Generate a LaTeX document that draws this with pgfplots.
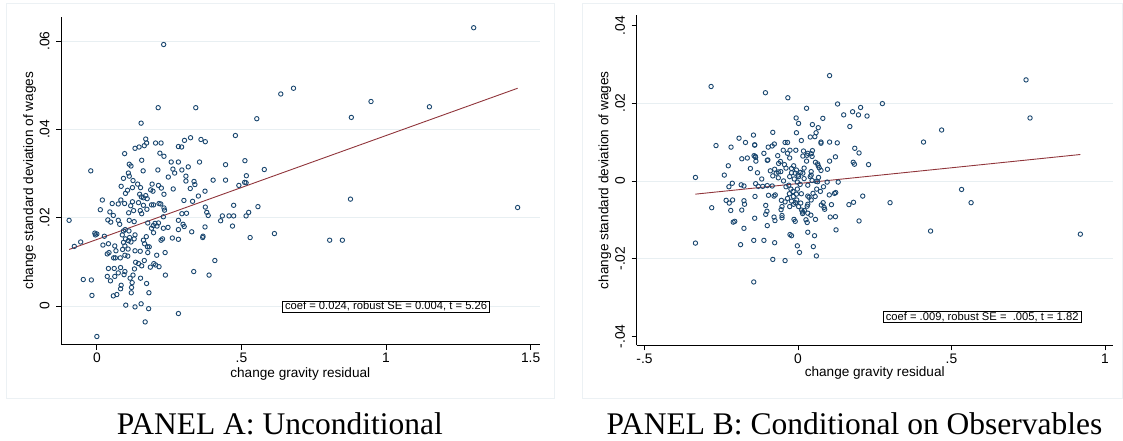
\documentclass[border=0pt]{standalone}
\usepackage{fontspec}
\setmainfont{Liberation Sans}
\newfontfamily\capfont{Liberation Serif}
\usepackage{pgfplots}
\usepackage{pgfplotstable}
\pgfplotsset{compat=1.18}
\definecolor{stnavy}{RGB}{26,71,111}
\definecolor{stmaroon}{RGB}{144,53,59}
\definecolor{gridc}{RGB}{232,239,242}
\definecolor{regc}{RGB}{236,241,244}

\pgfplotstableread{
x y
1.303 0.0630
0.231 0.0592
0.680 0.0493
0.636 0.0480
0.948 0.0463
1.150 0.0451
0.212 0.0449
0.342 0.0449
0.553 0.0424
0.880 0.0427
0.153 0.0414
0.479 0.0386
0.324 0.0381
0.169 0.0378
0.360 0.0377
0.375 0.0372
0.203 0.0369
0.222 0.0369
0.172 0.0369
0.303 0.0375
0.164 0.0363
0.146 0.0360
0.132 0.0357
0.282 0.0361
0.293 0.0360
0.218 0.0346
0.096 0.0345
0.232 0.0339
0.155 0.0330
0.512 0.0329
0.355 0.0326
0.257 0.0326
0.282 0.0326
0.112 0.0321
0.445 0.0320
0.118 0.0317
0.316 0.0315
0.294 0.0308
0.579 0.0309
0.211 0.0308
-0.021 0.0306
0.160 0.0306
0.263 0.0310
0.269 0.0301
0.109 0.0301
0.112 0.0294
0.517 0.0295
0.308 0.0294
0.092 0.0289
0.247 0.0292
0.125 0.0284
0.308 0.0283
0.402 0.0285
0.445 0.0285
0.336 0.0282
0.511 0.0280
0.516 0.0279
0.141 0.0276
0.191 0.0276
0.213 0.0273
0.339 0.0275
0.491 0.0273
0.084 0.0271
0.151 0.0268
0.264 0.0265
0.123 0.0268
0.323 0.0266
0.186 0.0263
0.223 0.0267
0.106 0.0262
0.374 0.0260
0.194 0.0260
0.099 0.0255
0.232 0.0253
0.148 0.0253
0.351 0.0249
0.169 0.0250
0.154 0.0247
0.161 0.0245
0.174 0.0243
0.019 0.0240
0.083 0.0240
0.301 0.0239
0.331 0.0237
0.123 0.0236
0.877 0.0242
0.096 0.0232
0.053 0.0232
0.144 0.0234
0.215 0.0232
0.074 0.0231
0.473 0.0228
0.161 0.0228
0.189 0.0229
0.117 0.0227
0.557 0.0225
0.196 0.0229
0.221 0.0231
0.375 0.0224
1.455 0.0223
0.012 0.0218
0.232 0.0222
0.173 0.0219
0.234 0.0217
0.127 0.0216
0.150 0.0216
0.380 0.0212
0.525 0.0212
0.294 0.0209
0.310 0.0210
0.110 0.0211
0.155 0.0209
0.045 0.0213
0.385 0.0205
0.434 0.0204
0.457 0.0204
0.473 0.0204
0.516 0.0204
0.230 0.0202
0.057 0.0205
-0.096 0.0194
0.038 0.0195
0.048 0.0190
0.074 0.0194
0.112 0.0194
0.129 0.0191
0.282 0.0194
0.428 0.0193
0.176 0.0188
0.201 0.0187
0.213 0.0188
0.079 0.0185
0.195 0.0182
0.208 0.0181
0.298 0.0185
0.302 0.0180
0.469 0.0181
0.374 0.0179
0.246 0.0178
0.230 0.0176
0.189 0.0176
0.098 0.0173
0.282 0.0173
0.111 0.0170
0.092 0.0170
-0.007 0.0165
0.000 0.0163
-0.005 0.0161
0.196 0.0166
0.328 0.0168
0.614 0.0164
0.088 0.0161
0.026 0.0158
0.132 0.0161
0.367 0.0158
0.366 0.0155
0.171 0.0157
0.113 0.0155
0.099 0.0152
0.530 0.0155
0.129 0.0152
0.227 0.0152
0.261 0.0154
0.282 0.0151
0.161 0.0149
0.222 0.0149
0.109 0.0148
0.805 0.0149
0.849 0.0149
-0.056 0.0145
0.092 0.0144
0.118 0.0145
-0.078 0.0135
0.021 0.0138
0.165 0.0141
0.040 0.0141
0.062 0.0136
0.097 0.0136
0.181 0.0134
0.175 0.0134
0.108 0.0129
0.089 0.0128
0.066 0.0125
0.132 0.0125
0.150 0.0124
0.236 0.0121
0.176 0.0121
0.042 0.0121
0.036 0.0118
0.097 0.0115
0.207 0.0115
0.107 0.0113
0.058 0.0109
0.064 0.0109
0.081 0.0109
0.408 0.0103
0.164 0.0103
0.134 0.0099
0.144 0.0096
0.197 0.0096
0.203 0.0093
0.155 0.0091
0.215 0.0089
0.185 0.0088
0.040 0.0085
0.060 0.0085
0.082 0.0087
0.130 0.0084
0.097 0.0078
0.335 0.0078
0.074 0.0075
0.094 0.0071
0.237 0.0070
0.388 0.0070
0.036 0.0067
0.062 0.0067
0.125 0.0070
0.115 0.0063
0.151 0.0063
-0.047 0.0060
-0.019 0.0059
0.047 0.0057
0.122 0.0053
0.172 0.0051
0.084 0.0047
0.120 0.0042
0.082 0.0039
0.119 0.0030
0.180 0.0030
0.069 0.0026
0.057 0.0023
-0.017 0.0024
0.100 0.0002
0.153 0.0005
0.132 -0.0002
0.179 -0.0006
0.282 -0.0017
0.167 -0.0036
0.000 -0.0069
}\dataA

\pgfplotstableread{
x y
0.103 0.0271
0.743 0.0260
-0.283 0.0243
-0.106 0.0227
-0.033 0.0214
0.129 0.0198
0.275 0.0199
0.204 0.0189
0.028 0.0187
0.178 0.0178
0.197 0.0170
0.225 0.0167
0.149 0.0170
0.756 0.0162
-0.006 0.0162
0.081 0.0161
0.002 0.0148
0.047 0.0145
0.066 0.0137
0.169 0.0140
0.468 0.0131
0.059 0.0124
-0.082 0.0125
-0.005 0.0124
-0.145 0.0118
0.055 0.0114
0.040 0.0113
-0.192 0.0110
0.011 0.0104
0.409 0.0100
0.103 0.0100
0.128 0.0098
0.075 0.0100
-0.171 0.0099
-0.042 0.0099
-0.034 0.0099
0.075 0.0097
-0.077 0.0095
-0.141 0.0093
-0.141 0.0092
-0.267 0.0091
-0.084 0.0090
-0.097 0.0087
-0.218 0.0087
0.185 0.0084
-0.048 0.0079
-0.026 0.0079
-0.007 0.0079
0.018 0.0077
0.047 0.0078
0.199 0.0072
-0.111 0.0071
0.032 0.0071
0.043 0.0070
-0.034 0.0071
0.122 0.0062
-0.143 0.0065
-0.139 0.0063
-0.138 0.0061
-0.066 0.0065
0.016 0.0064
0.029 0.0066
0.046 0.0063
-0.165 0.0059
-0.183 0.0057
-0.027 0.0059
-0.098 0.0054
-0.100 0.0053
-0.137 0.0051
0.103 0.0051
0.028 0.0051
-0.057 0.0050
0.057 0.0048
0.180 0.0048
0.184 0.0043
0.230 0.0042
0.064 0.0044
-0.044 0.0042
-0.063 0.0045
0.066 0.0039
-0.227 0.0039
-0.014 0.0039
0.069 0.0034
-0.155 0.0032
-0.076 0.0030
-0.039 0.0033
-0.021 0.0032
-0.005 0.0028
0.096 0.0030
0.075 0.0027
-0.090 0.0026
-0.056 0.0024
-0.064 0.0023
0.043 0.0024
0.009 0.0022
-0.132 0.0021
-0.021 0.0021
0.016 0.0020
-0.071 0.0020
-0.240 0.0015
-0.334 0.0009
-0.082 0.0013
0.000 0.0015
0.040 0.0011
-0.064 0.0008
-0.118 0.0005
-0.012 0.0005
0.020 0.0006
0.095 -0.0003
0.131 -0.0003
-0.047 0.0000
0.046 0.0001
-0.002 -0.0003
0.059 -0.0001
-0.138 -0.0007
-0.214 -0.0006
-0.185 -0.0010
-0.176 -0.0013
-0.129 -0.0014
-0.225 -0.0015
-0.115 -0.0014
-0.100 -0.0012
-0.084 -0.0013
-0.030 -0.0011
0.007 -0.0009
0.032 -0.0011
0.083 -0.0015
-0.023 -0.0021
-0.002 -0.0021
0.061 -0.0021
-0.016 -0.0027
0.119 -0.0032
0.123 -0.0030
-0.074 -0.0036
-0.078 -0.0039
-0.028 -0.0033
-0.005 -0.0034
0.011 -0.0033
0.102 -0.0036
-0.096 -0.0037
0.032 -0.0039
0.056 -0.0040
0.211 -0.0039
0.036 -0.0042
0.533 -0.0022
-0.140 -0.0040
-0.034 -0.0045
-0.054 -0.0050
-0.234 -0.0050
-0.213 -0.0049
-0.176 -0.0051
-0.021 -0.0052
-0.042 -0.0054
-0.224 -0.0057
-0.008 -0.0056
0.009 -0.0057
0.300 -0.0056
0.564 -0.0056
0.181 -0.0055
0.082 -0.0056
0.109 -0.0061
0.166 -0.0061
0.032 -0.0060
-0.174 -0.0060
0.076 -0.0062
-0.014 -0.0060
0.085 -0.0068
-0.281 -0.0069
-0.052 -0.0066
-0.105 -0.0063
0.030 -0.0065
0.087 -0.0073
-0.219 -0.0076
-0.183 -0.0075
-0.055 -0.0074
-0.101 -0.0078
0.012 -0.0075
0.015 -0.0080
0.021 -0.0076
-0.105 -0.0086
-0.052 -0.0089
0.042 -0.0088
0.015 -0.0084
0.105 -0.0093
0.122 -0.0092
-0.078 -0.0093
-0.052 -0.0095
-0.141 -0.0096
-0.013 -0.0099
0.026 -0.0100
0.057 -0.0099
-0.075 -0.0102
-0.009 -0.0104
0.199 -0.0103
-0.206 -0.0104
-0.211 -0.0106
0.030 -0.0107
-0.100 -0.0115
-0.176 -0.0122
0.124 -0.0126
0.032 -0.0132
0.432 -0.0129
-0.026 -0.0138
-0.021 -0.0141
0.054 -0.0141
0.920 -0.0137
-0.144 -0.0153
-0.111 -0.0153
-0.076 -0.0159
-0.334 -0.0160
-0.187 -0.0164
-0.002 -0.0167
0.050 -0.0169
0.005 -0.0184
0.060 -0.0193
-0.082 -0.0202
-0.042 -0.0205
-0.144 -0.0260
-0.009 0.0020
0.002 0.0011
0.020 0.0033
0.043 0.0015
0.067 0.0009
-0.027 0.0011
-0.039 -0.0015
-0.015 -0.0040
-0.004 -0.0049
0.049 -0.0032
0.073 -0.0027
0.032 -0.0083
0.002 -0.0066
-0.027 -0.0066
0.043 -0.0049
0.064 -0.0002
}\dataB

\pgfplotsset{
  stata/.style={
    scale only axis,
    axis lines*=left,
    axis line style={black, line width=0.8pt},
    tick align=outside,
    major tick length=5pt,
    minor tick num=0,
    scaled x ticks=false,
    scaled y ticks=false,
    tick style={black, line width=0.8pt},
    ticklabel style={font=\fontsize{13.8}{15}\selectfont},
    label style={font=\fontsize{13.6}{15}\selectfont},
    yticklabel style={rotate=90, anchor=south},
    yticklabel shift=3pt,
    xticklabel style={anchor=north},
  },
  dots/.style={only marks, mark=o, mark size=2.2pt, color=stnavy, mark options={line width=0.9pt}},
  fitline/.style={stmaroon, line width=0.9pt, no marks},
}
\tikzset{
  statbox/.style={draw=black, fill=white, line width=0.6pt, inner xsep=2.5pt, inner ysep=0.6pt,
    font=\fontsize{11.2}{12}\selectfont},
}
\begin{document}
\begin{tikzpicture}[x=1pt,y=1pt]
\path[use as bounding box] (0,0) rectangle (1123,441);
\draw[regc, line width=0.8pt] (6.5,42.7) rectangle (554.7,437.7);
\draw[regc, line width=0.8pt] (582.3,42.7) rectangle (1122.6,437.7);
\begin{axis}[stata,
  at={(61.0pt,96.2pt)}, anchor=south west,
  width=478.6pt, height=328.1pt,
  xmin=-0.124, xmax=1.531, ymin=-0.00878, ymax=0.0655,
  xtick={0,0.5,1,1.5}, xticklabels={0,.5,1,1.5},
  ytick={0,0.02,0.04,0.06}, yticklabels={0,.02,.04,.06},
  ymajorgrids, grid style={gridc, line width=0.8pt},
  xlabel={change gravity residual},
  ylabel={change standard deviation of wages},
  xlabel style={at={(axis description cs:0.5,-0.089)}, anchor=center},
  ylabel style={at={(axis description cs:-0.0658,0.5)}, anchor=center},
]
\addplot[dots] table[x=x,y=y] {\dataA};
\addplot[fitline] coordinates {(-0.096,0.0128) (1.455,0.0493)};
\node[statbox] at (axis cs:1.000,-0.0001) {coef = 0.024, robust SE = 0.004, t = 5.26};
\end{axis}
\begin{axis}[stata,
  at={(636.5pt,95.7pt)}, anchor=south west,
  width=476.4pt, height=330.3pt,
  xmin=-0.526, xmax=1.026, ymin=-0.0423, ymax=0.0427,
  xtick={-0.5,0,0.5,1}, xticklabels={-.5,0,.5,1},
  ytick={-0.04,-0.02,0,0.02,0.04}, yticklabels={-.04,-.02,0,.02,.04},
  xlabel={change gravity residual},
  ylabel={change standard deviation of wages},
  xlabel style={at={(axis description cs:0.5,-0.0848)}, anchor=center},
  ylabel style={at={(axis description cs:-0.0663,0.5)}, anchor=center},
]
\draw[gridc, line width=0.8pt] (axis cs:-0.526,0.02) -- (axis cs:1.026,0.02);
\draw[gridc, line width=0.8pt] (axis cs:-0.526,0) -- (axis cs:1.026,0);
\draw[gridc, line width=0.8pt] (axis cs:-0.526,-0.02) -- (axis cs:1.026,-0.02);
\addplot[dots] table[x=x,y=y] {\dataB};
\addplot[fitline] coordinates {(-0.334,-0.0034) (0.920,0.0068)};
\node[statbox] at (axis cs:0.600,-0.0350) {coef = .009, robust SE = \ .005, t = 1.82};
\end{axis}
\node[font=\capfont\fontsize{31.5}{34}\selectfont, anchor=base] at (279.8,6) {PANEL A: Unconditional};
\node[font=\capfont\fontsize{31.5}{34}\selectfont, anchor=base] at (854.4,6) {PANEL B: Conditional on Observables};
\end{tikzpicture}
\end{document}
